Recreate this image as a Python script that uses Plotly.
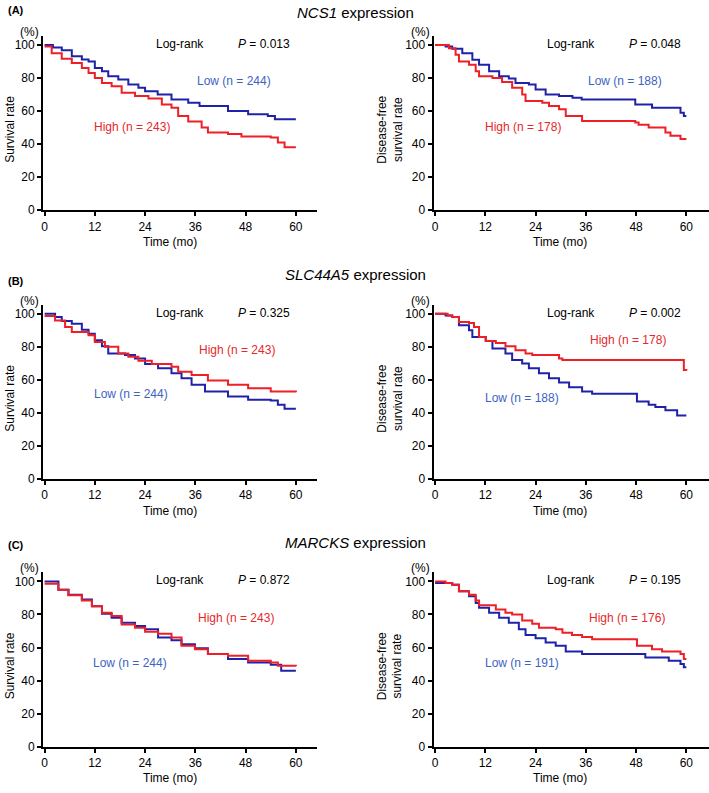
import plotly.graph_objects as go

# ---------------- data ----------------
# Panel A: NCS1 expression
A_os_low_t = [0, 2, 4.1, 6.5, 8.9, 10.5, 12, 13.7, 15.2, 17.6, 20, 22.4, 24, 27, 30.3, 34.3, 37, 43.8, 48.6, 53.3, 55, 60]
A_os_low_s = [100, 98.5, 96.8, 93.2, 91.2, 90, 86, 84, 81, 79, 76, 74, 72, 70, 67, 65, 63, 60, 58, 57, 55, 55]
A_os_high_t = [0, 1.7, 4.1, 6.5, 8.9, 10.5, 12, 13.7, 16, 18.4, 21.6, 24.8, 28, 30.3, 31.9, 34.3, 37.5, 39, 43.8, 47, 54, 55.7, 57.3, 60]
A_os_high_s = [99, 95, 91.6, 89, 86, 83, 80, 77, 75, 71, 69, 67.6, 64, 62, 57, 53.6, 50, 47, 46, 44.6, 44, 41, 38, 38]
A_dfs_low_t = [0, 2.5, 4.1, 6.5, 8.9, 10.5, 12.9, 15.3, 17.6, 19.2, 22.4, 24, 26.4, 29.6, 32.8, 35, 47.8, 51.8, 58.6, 59.4, 60]
A_dfs_low_s = [100, 99, 97.6, 95, 91, 88, 84, 81, 79.6, 77, 76, 73, 70, 69, 68, 67, 64, 62, 59, 57, 57]
A_dfs_high_t = [0, 3.3, 4.9, 5.7, 8.1, 9.7, 10.5, 13.7, 16, 18.4, 20.8, 21.6, 25.6, 27.2, 29.6, 31.2, 35.1, 47.8, 48.6, 51, 55, 56.2, 58.6, 60]
A_dfs_high_s = [100, 98, 94, 90, 88, 84, 81, 80, 77.6, 74, 70, 66, 65, 63, 61, 57, 54, 53, 51.6, 50, 47, 45, 43, 43]

# Panel B: SLC44A5 expression
B_os_low_t = [0, 2.5, 4.1, 6.5, 8.9, 10.5, 12, 13.7, 15.2, 19.2, 21.6, 24, 27.1, 30.3, 32.7, 35.1, 38.3, 43.8, 48.6, 54, 55.7, 57.3, 60]
B_os_low_s = [100, 98, 95.6, 94, 90.4, 88, 84, 80.4, 76, 75, 73, 69.6, 67, 64, 61, 57, 53, 50, 48, 47.6, 45, 42.6, 42.6]
B_os_high_t = [0, 2.5, 4.9, 6.5, 10.5, 12, 14.4, 17.6, 20, 22.4, 25.6, 30.3, 31.9, 35.1, 39, 43.8, 48.6, 54, 60]
B_os_high_s = [98.6, 96, 92, 89, 87, 83, 80, 76, 74, 71.6, 69.6, 68, 65, 63, 59.6, 57, 55, 53, 52.6]
B_dfs_low_t = [0, 2.5, 4.1, 5.7, 8.1, 8.9, 12.1, 13.7, 16.8, 18.4, 20.8, 22.4, 24.8, 27.2, 29.6, 32, 35.1, 37.5, 48.2, 51, 52.6, 55, 57.8, 60]
B_dfs_low_s = [100, 99, 98, 93, 90, 86, 83.6, 79, 76, 72, 70, 67, 64, 61, 58.4, 55.6, 53, 51.6, 47, 45, 43.6, 41.6, 38.4, 38.4]
B_dfs_high_t = [0, 3, 4.1, 5.7, 8.1, 9.3, 10.5, 12.1, 14.5, 16.8, 19.2, 21.6, 23.2, 29.6, 30.4, 58.6, 59.4, 60]
B_dfs_high_s = [100, 99, 98, 95, 94.4, 92, 86, 83.6, 82.4, 80.4, 78, 76, 75, 73, 72, 72, 66, 65.6]

# Panel C: MARCKS expression
C_os_low_t = [0, 3.3, 5.7, 8.9, 11.3, 13.7, 16, 18.4, 21.6, 24, 27.1, 30.3, 32.7, 35.9, 39, 43.8, 48.6, 54, 56.5, 60]
C_os_low_s = [100, 95, 92, 89, 85, 80.4, 78, 75, 73, 71, 66, 64.4, 62, 59.6, 56, 53, 51, 49.6, 46, 46]
C_os_high_t = [0, 3.3, 5.7, 8.9, 11.3, 13.7, 16, 18.4, 21.6, 24, 27.1, 30.3, 32.7, 35.9, 39, 43.8, 48.6, 54, 55.7, 60]
C_os_high_s = [98.6, 95, 91.6, 88.4, 85, 81, 79, 74, 72, 69.6, 68.4, 66, 61, 59, 56, 55, 52, 51, 49, 48.6]
C_dfs_low_t = [0, 4.1, 5.7, 8.1, 9.7, 10.5, 12.9, 15.3, 17.6, 20, 21.6, 24, 26.4, 28.8, 31.2, 35.1, 50.2, 55.8, 58.6, 59.4, 60]
C_dfs_low_s = [99, 98, 94, 91, 87, 84, 81, 78, 75, 71, 67.6, 65.6, 63, 61, 57.6, 56, 54, 52, 50, 48, 48]
C_dfs_high_t = [0, 2.5, 4.1, 5.7, 8.1, 9.7, 10.5, 14.5, 16.8, 18.4, 20.8, 23.2, 24.8, 28.8, 30.4, 32.7, 35.1, 37.5, 48.2, 51.8, 54.2, 58.6, 59.4, 60]
C_dfs_high_s = [100, 99, 98, 94, 92, 88.4, 85.6, 83, 81, 80, 76.4, 74.4, 72, 71, 69, 67.6, 66.4, 65, 61, 59, 57.6, 56, 53, 53]

genes = ["NCS1", "SLC44A5", "MARCKS"]
panel_letters = ["(A)", "(B)", "(C)"]
os_pvals = ["0.013", "0.325", "0.872"]
dfs_pvals = ["0.048", "0.002", "0.195"]
os_n_low = [244, 244, 244]
os_n_high = [243, 243, 243]
dfs_n_low = [188, 188, 191]
dfs_n_high = [178, 178, 176]
x_ticks = [0, 12, 24, 36, 48, 60]
y_ticks = [0, 20, 40, 60, 80, 100]

curves = [
    [(A_os_low_t, A_os_low_s, A_os_high_t, A_os_high_s), (A_dfs_low_t, A_dfs_low_s, A_dfs_high_t, A_dfs_high_s)],
    [(B_os_low_t, B_os_low_s, B_os_high_t, B_os_high_s), (B_dfs_low_t, B_dfs_low_s, B_dfs_high_t, B_dfs_high_s)],
    [(C_os_low_t, C_os_low_s, C_os_high_t, C_os_high_s), (C_dfs_low_t, C_dfs_low_s, C_dfs_high_t, C_dfs_high_s)],
]

# ---------------- layout ----------------
W, H = 709, 793
BLUE_LINE = "#1f22a8"
RED_LINE = "#ee1f26"
BLUE_TXT = "#3d63c2"
RED_TXT = "#e8262c"
FONT = "Liberation Sans, Arial, sans-serif"

def px(x):
    return x / W

def py(y):
    return 1 - y / H

col_x = [(42.7, 316.0), (434.3, 709.0)]      # pixel x of x=0 and axis end
row_y = [(212.0, 36.0), (483.3, 307.3), (753.3, 577.3)]  # pixel y of y=0 and axis top
title_y = [13, 277, 547]
letter_y = [10, 283, 550]

fig = go.Figure()
annotations = []
layout_axes = {}

def ann(x, y, text, size=12, color="black", **kw):
    d = dict(x=px(x), y=py(y), xref="paper", yref="paper", text=text, showarrow=False,
             font=dict(family=FONT, size=size, color=color), xanchor="center", yanchor="middle")
    d.update(kw)
    annotations.append(d)

idx = 0
for r in range(3):
    y0, ytop = row_y[r]
    for c in range(2):
        idx += 1
        x0, xend = col_x[c]
        xname = "xaxis" if idx == 1 else f"xaxis{idx}"
        yname = "yaxis" if idx == 1 else f"yaxis{idx}"
        xref = "x" if idx == 1 else f"x{idx}"
        yref = "y" if idx == 1 else f"y{idx}"
        xmax = (xend - x0) / 4.2
        ymax = (y0 - ytop) / 1.667
        xpad = 0.35
        layout_axes[xname] = dict(
            domain=[px(x0 - xpad * 4.2), min(1.0, px(xend))], range=[-xpad, xmax],
            anchor=yref, showline=True, linecolor="black", linewidth=2,
            ticks="outside", ticklen=4, tickwidth=1.5, tickcolor="black",
            tickvals=x_ticks, showgrid=False, zeroline=False,
            tickfont=dict(family=FONT, size=12, color="black"),
        )
        layout_axes[yname] = dict(
            domain=[py(y0), py(ytop)], range=[0, ymax],
            anchor=xref, showline=True, linecolor="black", linewidth=2,
            ticks="outside", ticklen=4, tickwidth=1.5, tickcolor="black",
            tickvals=y_ticks, showgrid=False, zeroline=False,
            tickfont=dict(family=FONT, size=12, color="black"),
        )
        lt, ls, ht, hs = curves[r][c]
        fig.add_trace(go.Scatter(x=lt, y=ls, mode="lines", line=dict(color=BLUE_LINE, width=2, shape="hv"),
                                 xaxis=xref, yaxis=yref, showlegend=False, hoverinfo="skip"))
        fig.add_trace(go.Scatter(x=ht, y=hs, mode="lines", line=dict(color=RED_LINE, width=2, shape="hv"),
                                 xaxis=xref, yaxis=yref, showlegend=False, hoverinfo="skip"))

        dy = y0 - 212.0
        dx = x0 - 42.7
        ann(28 + dx, 32 + dy, "(%)", size=12)
        ann(179 + dx, 44 + dy, "Log-rank", size=12)
        pv = os_pvals[r] if c == 0 else dfs_pvals[r]
        ann(263 + dx, 44 + dy, f"<i>P</i> = {pv}", size=12)
        ann(168 + dx, 244 + dy, "Time (mo)", size=12)
        if c == 0:
            ann(8, 130 + dy, "Survival rate", size=12, textangle=-90)
        else:
            ann(389, 131 + dy, "Disease-free<br>survival rate", size=12, textangle=-90)
        nl = os_n_low[r] if c == 0 else dfs_n_low[r]
        nh = os_n_high[r] if c == 0 else dfs_n_high[r]
        if r == 0:
            low_pos = (233, 82) if c == 0 else (625, 82)
            high_pos = (130, 128) if c == 0 else (522, 128)
        elif r == 1:
            low_pos = (129, 398) if c == 0 else (521, 402)
            high_pos = (236, 353) if c == 0 else (628, 343)
        else:
            low_pos = (128, 669) if c == 0 else (521, 669)
            high_pos = (235, 623) if c == 0 else (627, 623)
        ann(low_pos[0], low_pos[1], f"Low (n = {nl})", size=12, color=BLUE_TXT)
        ann(high_pos[0], high_pos[1], f"High (n = {nh})", size=12, color=RED_TXT)

    ann(355, title_y[r], f"<i>{genes[r]}</i> expression", size=15)
    ann(4, letter_y[r], f"<b>{panel_letters[r]}</b>", size=11, xanchor="left")

fig.update_layout(
    width=W, height=H, margin=dict(l=0, r=0, t=0, b=0),
    paper_bgcolor="white", plot_bgcolor="white",
    annotations=annotations, showlegend=False,
    font=dict(family=FONT, size=12, color="black"),
    **layout_axes,
)

fig.write_html("out.html", config={"displayModeBar": False},
               post_script="document.body.style.margin='0';document.body.style.overflow='hidden';")
